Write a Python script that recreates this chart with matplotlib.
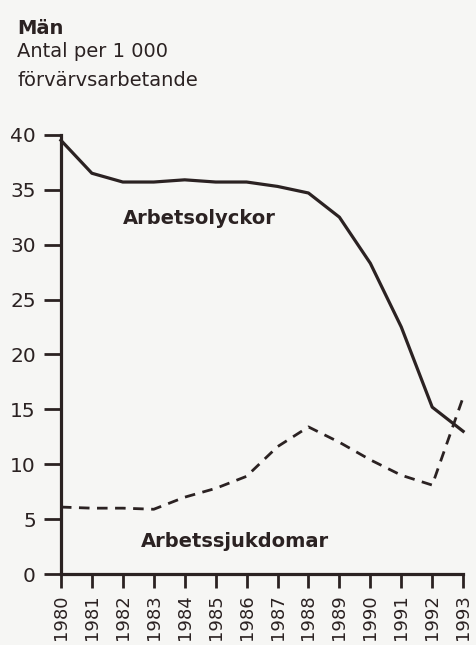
import matplotlib.pyplot as plt
import matplotlib
matplotlib.use('Agg')

plt.rcParams['font.family'] = ['DejaVu Sans']

years = list(range(1980, 1994))
# Arbetsolyckor (solid line)
olyckor = [39.5, 36.5, 35.7, 35.7, 35.9, 35.7, 35.7, 35.3, 34.7, 32.5, 28.3, 22.5, 15.2, 13.0]
# Arbetssjukdomar (dashed line)
sjukdomar = [6.1, 6.0, 6.0, 5.9, 7.0, 7.8, 8.9, 11.6, 13.4, 12.0, 10.4, 9.0, 8.1, 16.1]
y_ticks = [0, 5, 10, 15, 20, 25, 30, 35, 40]

ink = '#2b2222'
bg = '#f6f6f4'

fig = plt.figure(figsize=(4.76, 6.45), dpi=100, facecolor=bg)
ax = fig.add_axes([0.128, 0.110, 0.845, 0.681])
ax.set_facecolor(bg)

ax.plot(years, olyckor, color=ink, linewidth=2.3, clip_on=False, solid_joinstyle='round')
ax.plot(years, sjukdomar, color=ink, linewidth=2.0, linestyle=(0, (3.8, 2.7)), clip_on=False)

ax.set_xlim(1980, 1993)
ax.set_ylim(0, 40)
ax.set_xticks(years)
ax.set_xticklabels([str(y) for y in years], rotation=90, fontsize=13, color=ink)
ax.set_yticks(y_ticks)
ax.set_yticklabels([str(v) for v in y_ticks], fontsize=14.5, color=ink)

for s in ['top', 'right']:
    ax.spines[s].set_visible(False)
for s in ['left', 'bottom']:
    ax.spines[s].set_linewidth(2.3)
    ax.spines[s].set_color(ink)
ax.tick_params(axis='y', direction='out', length=12, width=2, color=ink, pad=6)
ax.tick_params(axis='x', direction='out', length=10, width=2, color=ink, pad=4.5)

ax.text(1982.0, 31.9, 'Arbetsolyckor', fontsize=14, fontweight='bold', color=ink, va='baseline', ha='left')
ax.text(1982.6, 2.45, 'Arbetssjukdomar', fontsize=14, fontweight='bold', color=ink, va='baseline', ha='left')

fig.text(0.036, 0.947, 'Män', fontsize=14, fontweight='bold', color=ink, va='baseline', ha='left')
fig.text(0.036, 0.912, 'Antal per 1 000', fontsize=14, color=ink, va='baseline', ha='left')
fig.text(0.036, 0.867, 'förvärvsarbetande', fontsize=14, color=ink, va='baseline', ha='left')

fig.savefig('out.png', dpi=100, facecolor=bg)
